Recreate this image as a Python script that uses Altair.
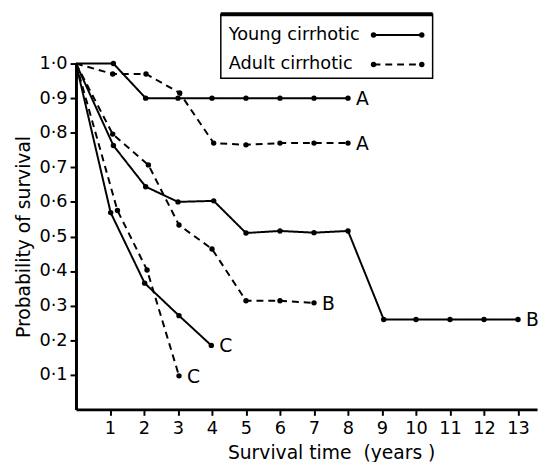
import altair as alt
import pandas as pd

# ---- data ----
young_A_t = [0, 1.1, 2.05, 3, 4, 5, 6, 7, 8]
young_A_p = [1.0, 1.0, 0.9, 0.9, 0.9, 0.9, 0.9, 0.9, 0.9]
adult_A_t = [0, 1.08, 2.06, 3.05, 4.05, 5, 6, 7, 8]
adult_A_p = [1.0, 0.97, 0.97, 0.915, 0.77, 0.765, 0.77, 0.77, 0.77]
young_B_t = [0, 1.1, 2.05, 3, 4.05, 5, 6, 7, 8, 9.05, 10, 11, 12, 13]
young_B_p = [1.0, 0.763, 0.644, 0.60, 0.603, 0.51, 0.516, 0.511, 0.516, 0.26, 0.26, 0.26, 0.26, 0.26]
adult_B_t = [0, 1.08, 2.13, 3.03, 4, 5, 6, 7]
adult_B_p = [1.0, 0.796, 0.707, 0.533, 0.464, 0.314, 0.314, 0.308]
young_C_t = [0, 1.02, 2.02, 3.03, 3.98]
young_C_p = [1.0, 0.569, 0.365, 0.271, 0.185]
adult_C_t = [0, 1.22, 2.09, 3.03]
adult_C_p = [1.0, 0.575, 0.403, 0.097]

curves = [
    ("Young A", "Young", "A", young_A_t, young_A_p),
    ("Adult A", "Adult", "A", adult_A_t, adult_A_p),
    ("Young B", "Young", "B", young_B_t, young_B_p),
    ("Adult B", "Adult", "B", adult_B_t, adult_B_p),
    ("Young C", "Young", "C", young_C_t, young_C_p),
    ("Adult C", "Adult", "C", adult_C_t, adult_C_p),
]

legend_labels = ["Young cirrhotic", "Adult cirrhotic"]
legend_groups = ["Young", "Adult"]
x_ticks = list(range(1, 14))
y_ticks = [0.1, 0.2, 0.3, 0.4, 0.5, 0.6, 0.7, 0.8, 0.9, 1.0]

rows, ends = [], []
for cid, grp, lab, ts, ps in curves:
    for i, (t, p) in enumerate(zip(ts, ps)):
        rows.append({"curve": cid, "group": grp, "t": t, "p": p, "order": i})
    ends.append({"curve": cid, "group": grp, "label": lab, "t": ts[-1], "p": ps[-1]})
df = pd.DataFrame(rows)
ends_df = pd.DataFrame(ends)

FONT = "DejaVu Sans"
W, H = 468, 351

xs = alt.Scale(domain=[0, 13.56], nice=False, zero=True)
ys = alt.Scale(domain=[0, 1.0], nice=False)
dash = alt.Scale(domain=["Young", "Adult"], range=[[1, 0], [7, 5]])

x_enc = alt.X("t:Q", scale=xs, axis=alt.Axis(
    values=x_ticks, title="Survival time\u00a0 (years\u00a0)", grid=False,
    labelOverlap=False, labelFlush=False,
    domainColor="black", domainWidth=3, tickColor="black", tickWidth=2, tickSize=6,
    labelFontSize=18, labelFont=FONT, labelColor="black", labelPadding=4,
    titleFontSize=19, titleFont=FONT, titleFontWeight="normal", titleColor="black",
    titleX=259, titleY=50, titleBaseline="alphabetic"))
y_enc = alt.Y("p:Q", scale=ys, axis=alt.Axis(
    values=y_ticks, title="Probability of survival", grid=False,
    labelOverlap=False, labelFlush=False,
    labelExpr="replace(format(datum.value, '.1f'), '.', '·')",
    domainColor="black", domainWidth=3, tickColor="black", tickWidth=2, tickSize=6,
    labelFontSize=18, labelFont=FONT, labelColor="black", labelPadding=3,
    titleFontSize=19, titleFont=FONT, titleFontWeight="normal", titleColor="black",
    titlePadding=6))

lines = alt.Chart(df).mark_line(color="black", strokeWidth=2).encode(
    detail="curve:N", order="order:Q",
    strokeDash=alt.StrokeDash("group:N", scale=dash, legend=None))

points = alt.Chart(df).transform_filter("datum.t > 0").mark_circle(
    color="black", size=30, opacity=1)

end_text = alt.Chart(ends_df).mark_text(
    align="left", baseline="middle", dx=8, dy=1, fontSize=19, font=FONT, color="black"
).encode(text="label:N")

# ---- legend box (decoration) ----
one = pd.DataFrame({"k": [0]})
box = alt.Chart(one).mark_rect(fill="white", stroke="black", strokeWidth=1.5).encode(
    x=alt.value(147), x2=alt.value(362), y=alt.value(-50), y2=alt.value(15))
box_top = alt.Chart(one).mark_rule(color="black", strokeWidth=4).encode(
    x=alt.value(147), x2=alt.value(362), y=alt.value(-50), y2=alt.value(-50))

leg_layers = []
leg_y = [-29, 1]
for lab, grp, yy in zip(legend_labels, legend_groups, leg_y):
    ldf = pd.DataFrame({"label": [lab], "group": [grp]})
    leg_layers.append(alt.Chart(ldf).mark_text(
        align="left", baseline="middle", fontSize=18, font=FONT, color="black"
    ).encode(x=alt.value(155), y=alt.value(yy), text="label:N"))
    leg_layers.append(alt.Chart(ldf).mark_rule(color="black", strokeWidth=2).encode(
        x=alt.value(302), x2=alt.value(351), y=alt.value(yy), y2=alt.value(yy),
        strokeDash=alt.StrokeDash("group:N", scale=dash, legend=None)))
    leg_layers.append(alt.Chart(ldf).mark_circle(color="black", size=30, opacity=1).encode(
        x=alt.value(302), y=alt.value(yy)))
    leg_layers.append(alt.Chart(ldf).mark_circle(color="black", size=30, opacity=1).encode(
        x=alt.value(351), y=alt.value(yy)))

chart = alt.layer(lines, points, end_text, box, box_top, *leg_layers).encode(
    x=x_enc, y=y_enc
).properties(
    width=W, height=H, background="white",
    autosize=alt.AutoSizeParams(type="none"),
    padding={"left": 69, "top": 53, "right": 4, "bottom": 50},
).configure_view(stroke=None).configure_axis(
    labelOverlap=False, labelFlush=False
)

chart.save("out.html", embed_options={"renderer": "svg", "actions": False})
